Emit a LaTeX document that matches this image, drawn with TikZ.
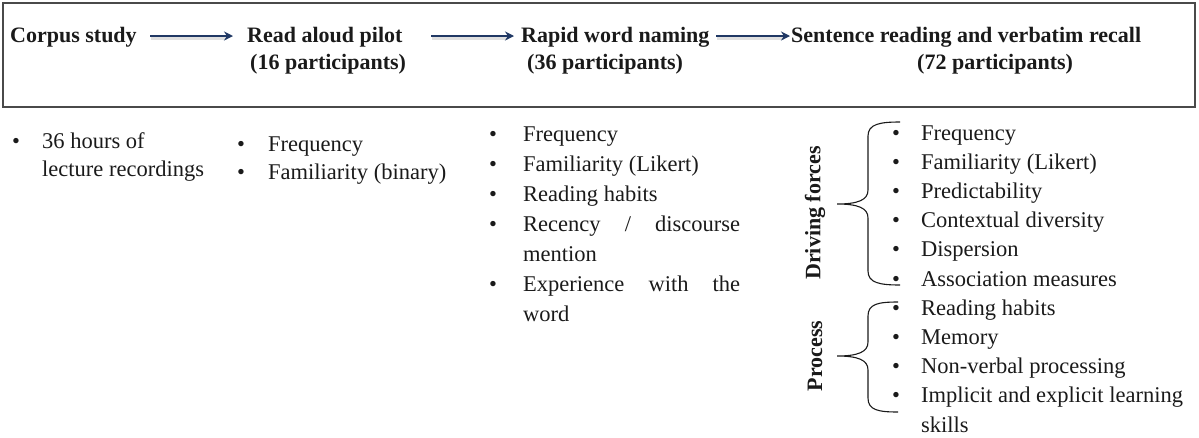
\documentclass[tikz,border=0pt]{standalone}
\usepackage{fontspec}
\setmainfont{Liberation Serif}
\usetikzlibrary{arrows.meta}
\definecolor{navy}{HTML}{203864}
\definecolor{boxline}{HTML}{4A4A4A}
\definecolor{ink}{HTML}{1A1A1A}
\begin{document}
\begin{tikzpicture}[x=1pt,y=-1pt,
  head/.style={anchor=base west, inner sep=0pt, text=ink,
    font=\fontsize{22}{26}\selectfont\bfseries},
  item/.style={anchor=base west, inner sep=0pt, text=ink,
    font=\fontsize{22.5}{29}\selectfont},
  dot/.style={anchor=base west, inner sep=0pt, text=ink,
    font=\fontsize{22.5}{29}\selectfont},
  side/.style={inner sep=0pt, text=ink, rotate=90,
    font=\fontsize{22}{26}\selectfont\bfseries},
  flow/.style={draw=navy, line width=2.6pt,
    -{Stealth[length=9pt,width=9pt]}},
  flowshade/.style={draw=black, opacity=0.12, line width=3.4pt},
  brace/.style={draw=ink, line width=1.1pt}]

\useasboundingbox (0,0) rectangle (1199,437);

% frame round the sequence of studies
\draw[boxline, line width=1.2pt] (3,3) rectangle (1195,107);

% study headings
\node[head] (corpus) at (10,42) {Corpus study};
\node[head] (pilot)  at (247,42) {Read aloud pilot};
\node[head] (pilotn) at (250,69) {(16 participants)};
\node[head] (rapid)  at (521,42) {Rapid word naming};
\node[head] (rapidn) at (527,69) {(36 participants)};
\node[head] (sent)   at (791,42) {Sentence reading and verbatim recall};
\node[head] (sentn)  at (917,69) {(72 participants)};

% arrows between the studies
\coordinate (a1s) at (150,36); \coordinate (a1e) at (233,36);
\coordinate (a2s) at (431,36); \coordinate (a2e) at (514,36);
\coordinate (a3s) at (716,36); \coordinate (a3e) at (790,36);
\foreach \s/\e in {a1s/a1e, a2s/a2e, a3s/a3e}{
  \draw[flowshade] ([shift={(1,2.5)}]\s) -- ([shift={(-6,2.5)}]\e);
  \draw[flow] (\s) -- (\e);
}

% column 1
\node[dot]  (b1-1) at (12,148) {\textbullet};
\node[item] (t1-1) at (42,148) {36 hours of};
\node[item] (t1-2) at (42,176) {lecture recordings};

% column 2
\node[dot]  (b2-1) at (237,151) {\textbullet};
\node[dot]  (b2-2) at (237,179) {\textbullet};
\node[item] (t2-1) at (268,151) {Frequency};
\node[item] (t2-2) at (268,179) {Familiarity (binary)};

% column 3 (justified to a fixed width)
\def\colw{217pt}
\foreach \y/\n/\txt/\b in {
  141/1/{Frequency}/1,
  171/2/{Familiarity (Likert)}/1,
  201/3/{Reading habits}/1,
  231/4/{\makebox[\colw][s]{Recency / discourse}}/1,
  261/5/{mention}/0,
  291/6/{\makebox[\colw][s]{Experience with the}}/1,
  321/7/{word}/0}{
  \ifnum\b=1 \node[dot] (b3-\n) at (489,\y) {\textbullet}; \fi
  \node[item] (t3-\n) at (523,\y) {\txt};
}

% column 4
\foreach \i/\txt/\b in {
  0/{Frequency}/1,
  1/{Familiarity (Likert)}/1,
  2/{Predictability}/1,
  3/{Contextual diversity}/1,
  4/{Dispersion}/1,
  5/{Association measures}/1,
  6/{Reading habits}/1,
  7/{Memory}/1,
  8/{Non-verbal processing}/1,
  9/{Implicit and explicit learning}/1,
  10/{skills}/0}{
  \pgfmathsetmacro{\yy}{140+29.2*\i}
  \ifnum\b=1 \node[dot] (b4-\i) at (892,\yy) {\textbullet}; \fi
  \node[item] (t4-\i) at (921,\yy) {\txt};
}

% group labels
\node[side] (drive) at (815,213) {Driving forces};
\node[side] (proc)  at (815,356) {Process};

% braces
\coordinate (d-top) at (900,122); \coordinate (d-bot) at (900,285);
\coordinate (d-tip) at (837,204);
\draw[brace] (d-top) .. controls (880,122) and (868,124) .. (868,136)
  -- (868,190) .. controls (868,200) and (858,204) .. (d-tip)
  .. controls (858,204) and (868,208) .. (868,218)
  -- (868,271) .. controls (868,283) and (880,285) .. (d-bot);

\coordinate (p-top) at (898,302); \coordinate (p-bot) at (898,412);
\coordinate (p-tip) at (837,356);
\draw[brace] (p-top) .. controls (878,302) and (868,304) .. (868,316)
  -- (868,342) .. controls (868,352) and (858,356) .. (p-tip)
  .. controls (858,356) and (868,360) .. (868,370)
  -- (868,398) .. controls (868,410) and (878,412) .. (p-bot);
\end{tikzpicture}
\end{document}
